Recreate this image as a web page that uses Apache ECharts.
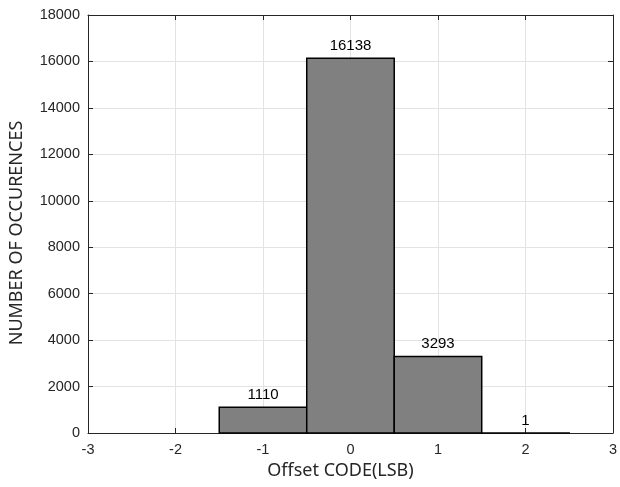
<!DOCTYPE html>
<html><head><meta charset="utf-8">
<script src="https://cdn.jsdelivr.net/npm/echarts@6/dist/echarts.min.js"></script>
<style>html,body{margin:0;padding:0;background:#fff}#c{width:620px;height:487px}</style>
</head><body><div id="c"></div>
<script>
const binCenters = [-1, 0, 1, 2];
const counts = [1110, 16138, 3293, 1];
const binWidth = 1;
const xTicks = [-3, -2, -1, 0, 1, 2, 3];
const yMax = 18000;
const yStep = 2000;

const chart = echarts.init(document.getElementById('c'));
const tickFont = {fontFamily: 'Liberation Sans, Arial, sans-serif', fontSize: 14.5, color: '#262626'};
const axisLineStyle = {color: '#262626', width: 1};
const splitStyle = {color: '#e3e3e3', width: 1};
const data = binCenters.map((c, i) => [c, counts[i]]);

chart.setOption({
  animation: false,
  grid: {left: 86, right: 5, top: 15, bottom: 54, containLabel: false},
  xAxis: [{
    type: 'value', min: xTicks[0], max: xTicks[xTicks.length-1], interval: 1,
    name: 'Offset CODE(LSB)', nameLocation: 'middle', nameGap: 26,
    nameTextStyle: {fontFamily: 'Noto Sans', fontSize: 18, color: '#262626', padding: [0, 20, 0, 0]},
    axisLine: {show: true, onZero: false, lineStyle: axisLineStyle},
    axisTick: {show: true, inside: true, length: 5, lineStyle: axisLineStyle},
    axisLabel: Object.assign({margin: 9, formatter: v => String(v)}, tickFont),
    splitLine: {show: true, lineStyle: splitStyle}
  }, {
    type: 'value', position: 'top', min: xTicks[0], max: xTicks[xTicks.length-1], interval: 1,
    axisLine: {show: true, onZero: false, lineStyle: axisLineStyle},
    axisTick: {show: true, inside: true, length: 5, lineStyle: axisLineStyle},
    axisLabel: {show: false}, splitLine: {show: false}
  }],
  yAxis: [{
    type: 'value', min: 0, max: yMax, interval: yStep,
    name: 'NUMBER OF OCCURENCES', nameLocation: 'middle', nameGap: 62,
    nameTextStyle: {fontFamily: 'Noto Sans', fontSize: 18, color: '#262626', padding: [0, 18, 0, 0]},
    axisLine: {show: true, onZero: false, lineStyle: axisLineStyle},
    axisTick: {show: true, inside: true, length: 5, lineStyle: axisLineStyle},
    axisLabel: Object.assign({margin: 8, formatter: v => String(v)}, tickFont),
    splitLine: {show: true, lineStyle: splitStyle}
  }, {
    type: 'value', position: 'right', min: 0, max: yMax, interval: yStep,
    axisLine: {show: true, onZero: false, lineStyle: axisLineStyle},
    axisTick: {show: true, inside: true, length: 5, lineStyle: axisLineStyle},
    axisLabel: {show: false}, splitLine: {show: false}
  }],
  series: [{
    type: 'custom',
    xAxisIndex: 0, yAxisIndex: 0,
    data: data,
    renderItem: function (params, api) {
      const c = api.value(0), v = api.value(1);
      const p0 = api.coord([c - binWidth/2, 0]);
      const p1 = api.coord([c + binWidth/2, v]);
      return {
        type: 'group',
        children: [{
          type: 'rect',
          shape: {x: p0[0], y: p1[1], width: p1[0]-p0[0], height: p0[1]-p1[1]},
          style: {fill: '#808080', stroke: '#000', lineWidth: 1.5}
        }, {
          type: 'text',
          style: {
            text: String(v), x: (p0[0]+p1[0])/2, y: p1[1] - 5,
            align: 'center', verticalAlign: 'bottom',
            font: '15px "Liberation Sans", Arial, sans-serif', fill: '#000'
          }
        }]
      };
    }
  }]
});
</script></body></html>
